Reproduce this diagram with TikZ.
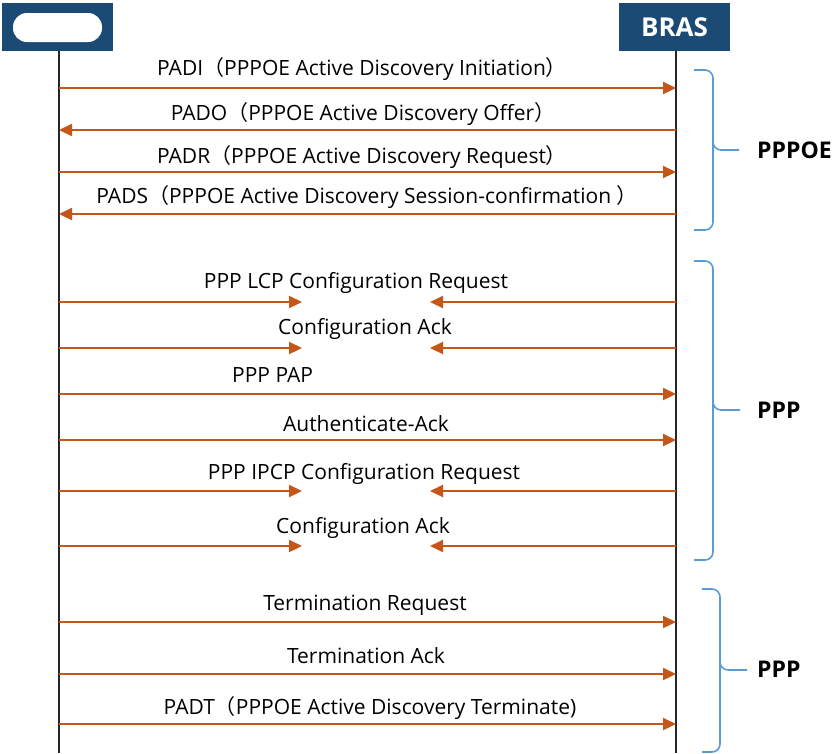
\documentclass[tikz,border=0pt]{standalone}
\usepackage{fontspec}
\setmainfont{Open Sans}
\newfontfamily\cjk{Noto Sans CJK SC}
\newcommand{\lp}{{\cjk （}}
\newcommand{\rp}{{\cjk ）}}
\usetikzlibrary{arrows.meta}
\definecolor{navy}{HTML}{1B4B75}
\definecolor{arr}{HTML}{C5561A}
\definecolor{brace}{HTML}{5B9BD5}
\begin{document}
\begin{tikzpicture}[x=1pt,y=-1pt,
  msg/.style={draw=arr,line width=2.2pt,-{Triangle[length=13pt,width=12pt]}},
  lbl/.style={font=\fontsize{21}{24}\selectfont,inner sep=0pt,anchor=base},
  life/.style={draw=black!85,line width=1.3pt},
  bracestyle/.style={draw=brace,line width=1.6pt,rounded corners=8pt},
  grp/.style={font=\bfseries\fontsize{23}{26}\selectfont,anchor=west,inner sep=0pt},
  box/.style={fill=navy,minimum width=111pt,minimum height=48pt,inner sep=0pt}]
\useasboundingbox (0,0) rectangle (834,753);
\fill[white] (0,0) rectangle (834,753);
% boxes
\node[box] (client) at (57.5,27) {};
\fill[white,rounded corners=14pt] (13,13) rectangle (102,42);
\node[box,text=white,font=\bfseries\fontsize{26}{30}\selectfont] (bras) at (674.5,27) {BRAS};
\coordinate (cb) at (59,753);
\coordinate (bb) at (676,753);
\draw[life] (client.south -| cb) -- (cb);
\draw[life] (bras.south -| bb) -- (bb);
% message end points
\foreach \i/\y in {1/88,2/130,3/172,4/214,5/302,6/348,7/394,8/440,9/491,10/546,11/622,12/674,13/724}{
  \coordinate (L\i) at (59,\y);
  \coordinate (R\i) at (676,\y);
  \coordinate (ML\i) at (302,\y);
  \coordinate (MR\i) at (430,\y);
}
% PPPoE discovery
\draw[msg] (L1) -- (R1);
\node[lbl] (t1) at (362,75) {PADI\lp PPPOE Active Discovery Initiation\rp};
\draw[msg] (R2) -- (L2);
\node[lbl] (t2) at (363,120) {PADO\lp PPPOE Active Discovery Offer\rp};
\draw[msg] (L3) -- (R3);
\node[lbl] (t3) at (362,163) {PADR\lp PPPOE Active Discovery Request\rp};
\draw[msg] (R4) -- (L4);
\node[lbl] (t4) at (367,203) {PADS\lp PPPOE Active Discovery Session-confirmation \rp};
% PPP
\draw[msg] (L5) -- (ML5);
\draw[msg] (R5) -- (MR5);
\node[lbl] (t5) at (356,288) {PPP LCP Configuration Request};
\draw[msg] (L6) -- (ML6);
\draw[msg] (R6) -- (MR6);
\node[lbl] (t6) at (365,334) {Configuration Ack};
\draw[msg] (L7) -- (R7);
\node[lbl,anchor=base west] (t7) at (232,382) {PPP PAP};
\draw[msg] (L8) -- (R8);
\node[lbl] (t8) at (366,431) {Authenticate-Ack};
\draw[msg] (L9) -- (ML9);
\draw[msg] (R9) -- (MR9);
\node[lbl] (t9) at (364,479) {PPP IPCP Configuration Request};
\draw[msg] (L10) -- (ML10);
\draw[msg] (R10) -- (MR10);
\node[lbl] (t10) at (363,533) {Configuration Ack};
% termination
\draw[msg] (L11) -- (R11);
\node[lbl] (t11) at (365,610) {Termination Request};
\draw[msg] (L12) -- (R12);
\node[lbl] (t12) at (366,663) {Termination Ack};
\draw[msg] (L13) -- (R13);
\node[lbl] (t13) at (370,714) {PADT\lp PPPOE Active Discovery Terminate)};
% braces
\draw[bracestyle] (694,70) -- (713,70) -- (713,150) -- (739,150);
\draw[bracestyle] (713,140) -- (713,230) -- (694,230);
\node[grp] (g1) at (757,150) {PPPOE};
\draw[bracestyle] (694,261) -- (713,261) -- (713,410) -- (740,410);
\draw[bracestyle] (713,400) -- (713,560) -- (694,560);
\node[grp] (g2) at (757,410) {PPP};
\draw[bracestyle] (702,589) -- (720,589) -- (720,670) -- (747,670);
\draw[bracestyle] (720,660) -- (720,752) -- (702,752);
\node[grp] (g3) at (757,669) {PPP};
\end{tikzpicture}
\end{document}
